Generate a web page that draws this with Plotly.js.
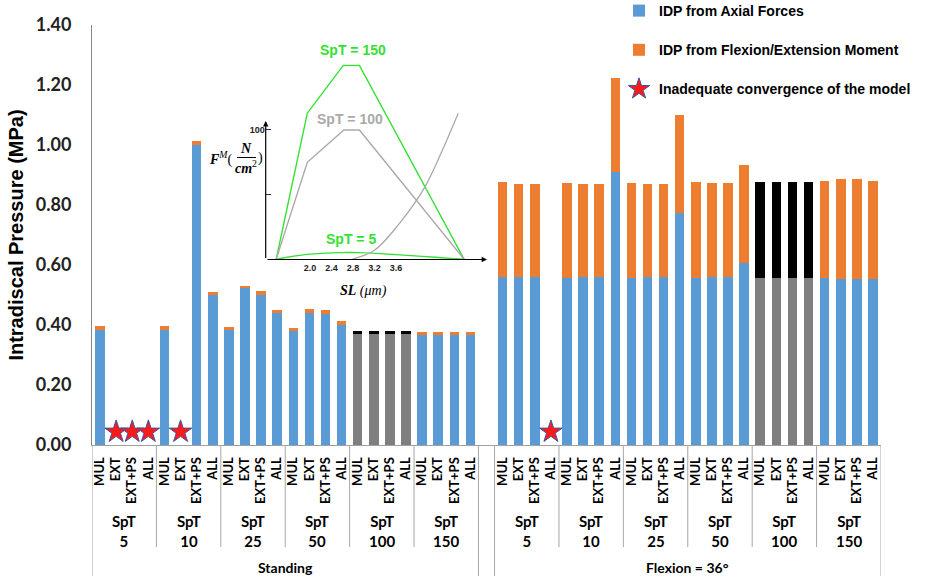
<!DOCTYPE html>
<html>
<head>
<meta charset="utf-8">
<script src="https://cdn.plot.ly/plotly-3.0.1.min.js"></script>
<style>
  html, body { margin: 0; padding: 0; background: #fff; }
  #chart { width: 941px; height: 577px; }
</style>
</head>
<body>
<div id="chart"></div>
<script>
// categories
var postures = ['Standing', 'Flexion = 36°'];
var sptLevels = ['5', '10', '25', '50', '100', '150'];
var muscles = ['MUL', 'EXT', 'EXT+PS', 'ALL'];

// intradiscal pressure (MPa), null = model did not converge
var standingAxial = [0.385, null, null, null,
                     0.385, null, 1.000, 0.500,
                     0.384, 0.524, 0.501, 0.439,
                     0.380, 0.439, 0.436, 0.400,
                     0.370, 0.370, 0.370, 0.370,
                     0.366, 0.366, 0.366, 0.366];
var standingMoment = [0.012, null, null, null,
                      0.012, null, 0.014, 0.011,
                      0.010, 0.006, 0.012, 0.010,
                      0.010, 0.013, 0.014, 0.013,
                      0.010, 0.010, 0.010, 0.010,
                      0.010, 0.010, 0.010, 0.010];
var flexionAxial = [0.559, 0.559, 0.559, null,
                    0.557, 0.559, 0.559, 0.909,
                    0.557, 0.559, 0.559, 0.772,
                    0.557, 0.559, 0.559, 0.606,
                    0.557, 0.557, 0.557, 0.557,
                    0.557, 0.552, 0.552, 0.552];
var flexionMoment = [0.317, 0.311, 0.311, null,
                     0.318, 0.311, 0.311, 0.313,
                     0.318, 0.311, 0.311, 0.327,
                     0.319, 0.314, 0.314, 0.328,
                     0.320, 0.320, 0.320, 0.320,
                     0.323, 0.334, 0.334, 0.329];

// inset: muscle force-length sketch
var slSpT150 = [1.37, 1.95, 2.62, 2.92, 4.87];
var fSpT150 = [0, 113, 150, 150, 0];
var slSpT100 = [1.37, 1.95, 2.63, 2.92, 4.87];
var fSpT100 = [0, 75, 100, 100, 0];
var slSpT5 = [1.37, 1.95, 2.63, 2.92, 4.87];
var fSpT5 = [0, 3.8, 5.2, 5.2, 0];
var slPassive = [2.78, 3.2, 3.67, 4.14, 4.46, 4.76];
var fPassive = [0, 7, 28, 56, 84, 113];
var slTicks = [2.0, 2.4, 2.8, 3.2, 3.6];

var BLUE = '#5b9bd5', ORANGE = '#ed7d31', GREY = '#7f7f7f', BLACK = '#000000';
var GREEN = '#33e133', LGREY = '#a9a9a9';
var starLevel = 0.044;

// pixel helpers for layout placement (plot area 92..881 x 25..445)
var L = 92, R = 881, T = 25, B = 445;
function px(x) { return (x - L) / (R - L); }
function py(y) { return (B - y) / (B - T); }

// build positions: one empty slot between the two postures
var perPosture = sptLevels.length * muscles.length;
var xs = [], tickText = [], axial = [], moment = [], axialCol = [], momentCol = [];
var starX = [], starY = [];
var annotations = [], shapes = [];
var calib = 'Lato, Carlito, sans-serif';

postures.forEach(function (p, pi) {
  var off = pi * (perPosture + 1);
  var a = pi === 0 ? standingAxial : flexionAxial;
  var m = pi === 0 ? standingMoment : flexionMoment;
  sptLevels.forEach(function (s, si) {
    muscles.forEach(function (mu, mi) {
      var k = si * muscles.length + mi;
      var x = off + k;
      xs.push(x);
      tickText.push(mu);
      axial.push(a[k]);
      moment.push(m[k]);
      axialCol.push(s === '100' ? GREY : BLUE);
      momentCol.push(s === '100' ? BLACK : ORANGE);
      if (a[k] === null) { starX.push(x); starY.push(starLevel); }
    });
    var first = off + si * muscles.length;
    annotations.push({x: first + (muscles.length - 1) / 2, y: py(530.5), xref: 'x', yref: 'paper',
      xanchor: 'center', yanchor: 'middle', text: 'SpT<br>' + s, showarrow: false,
      font: {family: calib, size: 15, color: '#000', weight: 700}});
    if (si > 0) {
      shapes.push({type: 'line', xref: 'x', yref: 'paper', x0: first - 0.5, x1: first - 0.5,
        y0: 0, y1: py(547), line: {color: '#a6a6a6', width: 1}});
    }
  });
  shapes.push({type: 'line', xref: 'x', yref: 'paper', x0: off - 0.5, x1: off - 0.5,
    y0: 0, y1: py(576), line: {color: '#a6a6a6', width: 1}});
  shapes.push({type: 'line', xref: 'x', yref: 'paper', x0: off + perPosture - 0.5, x1: off + perPosture - 0.5,
    y0: 0, y1: py(576), line: {color: '#a6a6a6', width: 1}});
  annotations.push({x: off + (perPosture - 1) / 2, y: py(567), xref: 'x', yref: 'paper', text: p,
    xanchor: 'center', yanchor: 'middle', showarrow: false,
    font: {family: calib, size: 14, color: '#000', weight: 700}});
});

var data = [
  {type: 'bar', name: 'IDP from Axial Forces', x: xs, y: axial, marker: {color: axialCol},
   legendgroup: 'a', hoverinfo: 'y'},
  {type: 'bar', name: 'IDP from Flexion/Extension Moment', x: xs, y: moment, marker: {color: momentCol},
   legendgroup: 'b', hoverinfo: 'y'},
  {type: 'scatter', mode: 'markers', name: 'Inadequate convergence of the model', x: starX, y: starY,
   marker: {symbol: 'star', size: 17, color: '#ff1a1a', line: {color: '#3b55a0', width: 1}},
   legendgroup: 'c', hoverinfo: 'skip'},
  {type: 'scatter', mode: 'lines', x: slSpT150, y: fSpT150, xaxis: 'x2', yaxis: 'y2',
   line: {color: GREEN, width: 1.4}, showlegend: false, hoverinfo: 'skip'},
  {type: 'scatter', mode: 'lines', x: slSpT100, y: fSpT100, xaxis: 'x2', yaxis: 'y2',
   line: {color: LGREY, width: 1.4}, showlegend: false, hoverinfo: 'skip'},
  {type: 'scatter', mode: 'lines', x: slSpT5, y: fSpT5, xaxis: 'x2', yaxis: 'y2',
   line: {color: GREEN, width: 1.4, shape: 'spline'}, showlegend: false, hoverinfo: 'skip'},
  {type: 'scatter', mode: 'lines', x: slPassive, y: fPassive, xaxis: 'x2', yaxis: 'y2',
   line: {color: LGREY, width: 1.3, shape: 'spline'}, showlegend: false, hoverinfo: 'skip'}
];

// inset labels and arrows
var insetFont = {family: 'Liberation Sans, Arial, sans-serif', size: 14, weight: 700};
var serif = {family: 'Liberation Serif, serif', size: 14, color: '#000'};
function note(x, y, text, font, xa) {
  return {xref: 'paper', yref: 'paper', x: px(x), y: py(y), text: text, showarrow: false,
          xanchor: xa || 'center', yanchor: 'middle', font: font};
}
annotations.push(
  note(353, 50, 'SpT = 150', Object.assign({}, insetFont, {color: GREEN})),
  note(350, 119, 'SpT = 100', Object.assign({}, insetFont, {color: LGREY})),
  note(351, 239, 'SpT = 5', Object.assign({}, insetFont, {color: GREEN})),
  note(363, 291, '<b><i>SL</i></b> <i>(μm)</i>', {family: 'Liberation Serif, serif', size: 14, color: '#000'}),
  note(235, 158, '<b><i>F</i></b><sup><i>M</i></sup>(', serif, 'right'),
  note(246, 148, '<b><i>N</i></b>', serif),
  note(246, 167, '<b><i>cm</i></b><sup>2</sup>', serif),
  note(256, 158, ')', serif, 'left'),
  {xref: 'paper', yref: 'paper', x: px(487), y: py(259.5), ax: -221, ay: 0, text: '',
   showarrow: true, arrowhead: 2, arrowsize: 0.9, arrowwidth: 1.2, arrowcolor: '#000'},
  {xref: 'paper', yref: 'paper', x: px(265.7), y: py(121), ax: 0, ay: 138.5, text: '',
   showarrow: true, arrowhead: 2, arrowsize: 0.9, arrowwidth: 1.2, arrowcolor: '#000'}
);
shapes.push({type: 'line', xref: 'paper', yref: 'paper', x0: px(237), x1: px(256), y0: py(157.5), y1: py(157.5),
  line: {color: '#000', width: 1}});

var layout = {
  width: 941, height: 577,
  margin: {l: L, r: 941 - R, t: T, b: 577 - B, autoexpand: false},
  paper_bgcolor: '#fff', plot_bgcolor: 'rgba(0,0,0,0)',
  barmode: 'stack', bargap: 0.41,
  font: {family: 'Liberation Sans, Arial, sans-serif', color: '#000'},
  xaxis: {range: [-0.5, 2 * perPosture + 0.5], tickvals: xs, ticktext: tickText, tickangle: -90,
          ticks: '', ticklabelstandoff: 6, showgrid: false,
          tickfont: {family: calib, size: 13, color: '#000', weight: 700},
          zeroline: false, showline: true, linecolor: '#a0a0a0', linewidth: 1, fixedrange: true},
  yaxis: {range: [0, 1.4], tickvals: [0, 0.2, 0.4, 0.6, 0.8, 1.0, 1.2, 1.4], tickformat: '.2f',
          showgrid: false, zeroline: false, showline: true, linecolor: '#888', linewidth: 1, ticks: '',
          ticklabelstandoff: 16,
          tickfont: {family: calib, size: 18, color: '#222', weight: 700},
          title: {text: 'Intradiscal Pressure (MPa)', standoff: 6,
                  font: {family: 'Liberation Sans, Arial, sans-serif', size: 20, color: '#000', weight: 700}}},
  xaxis2: {domain: [px(265.7), px(486.7)], anchor: 'y2', range: [1.175, 5.29],
           tickvals: slTicks, ticktext: slTicks.map(function (v) { return v.toFixed(1); }),
           tickangle: 0, ticks: '', showgrid: false, zeroline: false, showline: false, ticklabelstandoff: 2,
           tickfont: {size: 9, color: '#222', weight: 700}},
  yaxis2: {domain: [py(259.3), py(52.4)], anchor: 'x2', range: [0, 160],
           tickvals: [50, 100], ticktext: ['', '100'], ticks: 'inside', ticklen: 5, tickcolor: '#333',
           showgrid: false, zeroline: false, showline: false,
           tickfont: {size: 9, color: '#222', weight: 700}},
  legend: {xref: 'paper', yref: 'paper', x: px(619), y: py(-5), xanchor: 'left', yanchor: 'top',
           bgcolor: 'rgba(0,0,0,0)', traceorder: 'grouped', tracegroupgap: 18,
           font: {family: 'Liberation Sans, Arial, sans-serif', size: 14, color: '#000', weight: 700}},
  showlegend: true,
  annotations: annotations,
  shapes: shapes
};

Plotly.newPlot('chart', data, layout, {displayModeBar: false, staticPlot: true});
</script>
</body>
</html>
